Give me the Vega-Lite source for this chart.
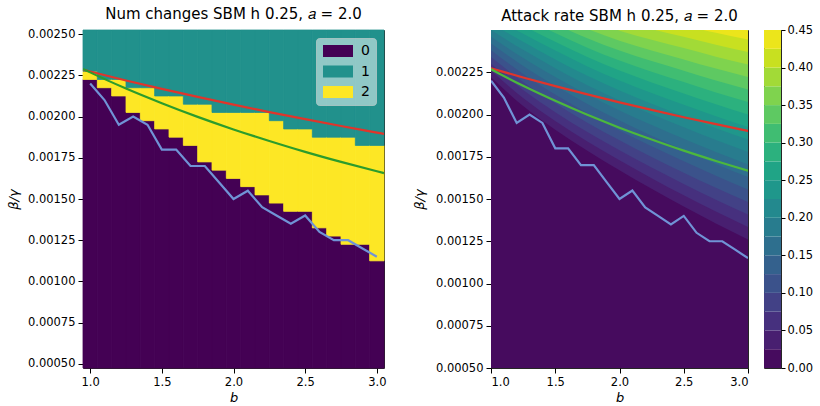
{
  "$schema": "https://vega.github.io/schema/vega-lite/v6.json",
  "padding": {"left": 6, "top": 6, "right": 0, "bottom": 0},
  "bounds": "flush",
  "spacing": 107,
  "config": {
    "font": "DejaVu Sans",
    "view": {"stroke": "#262626", "strokeWidth": 1},
    "axis": {"grid": false, "domain": false, "tickColor": "#000", "tickSize": 5, "labelFontSize": 11.5, "labelColor": "#000", "labelPadding": 3, "titleFontSize": 13, "titleFontWeight": "normal", "titleFontStyle": "italic", "titleColor": "#000"},
    "title": {"fontSize": 15, "fontWeight": "normal", "color": "#000", "offset": 6}
  },
  "datasets": {
    "cells": [
      {"b":1.0,"cls":0,"lo":0.000475,"hi":0.002225},{"b":1.0,"cls":2,"lo":0.002225,"hi":0.002275},{"b":1.0,"cls":1,"lo":0.002275,"hi":0.002525},
      {"b":1.1,"cls":0,"lo":0.000475,"hi":0.002175},{"b":1.1,"cls":2,"lo":0.002175,"hi":0.002225},{"b":1.1,"cls":1,"lo":0.002225,"hi":0.002525},
      {"b":1.2,"cls":0,"lo":0.000475,"hi":0.002125},{"b":1.2,"cls":2,"lo":0.002125,"hi":0.002225},{"b":1.2,"cls":1,"lo":0.002225,"hi":0.002525},
      {"b":1.3,"cls":0,"lo":0.000475,"hi":0.002025},{"b":1.3,"cls":2,"lo":0.002025,"hi":0.002175},{"b":1.3,"cls":1,"lo":0.002175,"hi":0.002525},
      {"b":1.4,"cls":0,"lo":0.000475,"hi":0.001975},{"b":1.4,"cls":2,"lo":0.001975,"hi":0.002175},{"b":1.4,"cls":1,"lo":0.002175,"hi":0.002525},
      {"b":1.5,"cls":0,"lo":0.000475,"hi":0.001925},{"b":1.5,"cls":2,"lo":0.001925,"hi":0.002125},{"b":1.5,"cls":1,"lo":0.002125,"hi":0.002525},
      {"b":1.6,"cls":0,"lo":0.000475,"hi":0.001875},{"b":1.6,"cls":2,"lo":0.001875,"hi":0.002125},{"b":1.6,"cls":1,"lo":0.002125,"hi":0.002525},
      {"b":1.7,"cls":0,"lo":0.000475,"hi":0.001825},{"b":1.7,"cls":2,"lo":0.001825,"hi":0.002075},{"b":1.7,"cls":1,"lo":0.002075,"hi":0.002525},
      {"b":1.8,"cls":0,"lo":0.000475,"hi":0.001725},{"b":1.8,"cls":2,"lo":0.001725,"hi":0.002075},{"b":1.8,"cls":1,"lo":0.002075,"hi":0.002525},
      {"b":1.9,"cls":0,"lo":0.000475,"hi":0.001675},{"b":1.9,"cls":2,"lo":0.001675,"hi":0.002025},{"b":1.9,"cls":1,"lo":0.002025,"hi":0.002525},
      {"b":2.0,"cls":0,"lo":0.000475,"hi":0.001625},{"b":2.0,"cls":2,"lo":0.001625,"hi":0.002025},{"b":2.0,"cls":1,"lo":0.002025,"hi":0.002525},
      {"b":2.1,"cls":0,"lo":0.000475,"hi":0.001575},{"b":2.1,"cls":2,"lo":0.001575,"hi":0.002025},{"b":2.1,"cls":1,"lo":0.002025,"hi":0.002525},
      {"b":2.2,"cls":0,"lo":0.000475,"hi":0.001525},{"b":2.2,"cls":2,"lo":0.001525,"hi":0.002025},{"b":2.2,"cls":1,"lo":0.002025,"hi":0.002525},
      {"b":2.3,"cls":0,"lo":0.000475,"hi":0.001475},{"b":2.3,"cls":2,"lo":0.001475,"hi":0.001975},{"b":2.3,"cls":1,"lo":0.001975,"hi":0.002525},
      {"b":2.4,"cls":0,"lo":0.000475,"hi":0.001425},{"b":2.4,"cls":2,"lo":0.001425,"hi":0.001925},{"b":2.4,"cls":1,"lo":0.001925,"hi":0.002525},
      {"b":2.5,"cls":0,"lo":0.000475,"hi":0.001425},{"b":2.5,"cls":2,"lo":0.001425,"hi":0.001925},{"b":2.5,"cls":1,"lo":0.001925,"hi":0.002525},
      {"b":2.6,"cls":0,"lo":0.000475,"hi":0.001325},{"b":2.6,"cls":2,"lo":0.001325,"hi":0.001875},{"b":2.6,"cls":1,"lo":0.001875,"hi":0.002525},
      {"b":2.7,"cls":0,"lo":0.000475,"hi":0.001275},{"b":2.7,"cls":2,"lo":0.001275,"hi":0.001875},{"b":2.7,"cls":1,"lo":0.001875,"hi":0.002525},
      {"b":2.8,"cls":0,"lo":0.000475,"hi":0.001225},{"b":2.8,"cls":2,"lo":0.001225,"hi":0.001875},{"b":2.8,"cls":1,"lo":0.001875,"hi":0.002525},
      {"b":2.9,"cls":0,"lo":0.000475,"hi":0.001225},{"b":2.9,"cls":2,"lo":0.001225,"hi":0.001825},{"b":2.9,"cls":1,"lo":0.001825,"hi":0.002525},
      {"b":3.0,"cls":0,"lo":0.000475,"hi":0.001125},{"b":3.0,"cls":2,"lo":0.001125,"hi":0.001825},{"b":3.0,"cls":1,"lo":0.001825,"hi":0.002525}
    ],
    "red": [
      {"b":0.95,"v":0.002284},{"b":1.0,"v":0.002273},{"b":1.25,"v":0.002219},{"b":1.5,"v":0.002168},{"b":1.75,"v":0.002119},{"b":2.0,"v":0.002072},{"b":2.25,"v":0.002027},{"b":2.5,"v":0.001984},{"b":2.75,"v":0.001943},{"b":3.0,"v":0.001903},{"b":3.05,"v":0.001895}
    ],
    "green": [
      {"b":0.95,"v":0.002289},{"b":1.0,"v":0.002268},{"b":1.25,"v":0.00217},{"b":1.5,"v":0.002081},{"b":1.75,"v":0.001998},{"b":2.0,"v":0.001922},{"b":2.25,"v":0.001852},{"b":2.5,"v":0.001786},{"b":2.75,"v":0.001725},{"b":3.0,"v":0.001668},{"b":3.05,"v":0.001657}
    ],
    "blue": [
      {"b":1.0,"v":0.0022},{"b":1.1,"v":0.0021},{"b":1.2,"v":0.00195},{"b":1.3,"v":0.002},{"b":1.4,"v":0.00195},{"b":1.5,"v":0.0018},{"b":1.6,"v":0.0018},{"b":1.7,"v":0.0017},{"b":1.8,"v":0.0017},{"b":1.9,"v":0.0016},{"b":2.0,"v":0.0015},{"b":2.1,"v":0.00155},{"b":2.2,"v":0.00145},{"b":2.3,"v":0.0014},{"b":2.4,"v":0.00135},{"b":2.5,"v":0.0014},{"b":2.6,"v":0.0013},{"b":2.7,"v":0.00125},{"b":2.8,"v":0.00125},{"b":2.9,"v":0.0012},{"b":3.0,"v":0.00115}
    ],
    "contours": [
      {"b":1,"level":0,"v":0.0005},{"b":3,"level":0,"v":0.0005},
      {"b":1,"level":0.025,"v":0.00222},{"b":1.25,"level":0.025,"v":0.00205},{"b":1.5,"level":0.025,"v":0.00191},{"b":1.75,"level":0.025,"v":0.001785},{"b":2,"level":0.025,"v":0.00167},{"b":2.25,"level":0.025,"v":0.00156},{"b":2.5,"level":0.025,"v":0.001455},{"b":2.75,"level":0.025,"v":0.001355},{"b":3,"level":0.025,"v":0.00126},
      {"b":1,"level":0.05,"v":0.00226},{"b":1.25,"level":0.05,"v":0.0020975},{"b":1.5,"level":0.05,"v":0.001962},{"b":1.75,"level":0.05,"v":0.0018405},{"b":2,"level":0.05,"v":0.001729},{"b":2.25,"level":0.05,"v":0.001623},{"b":2.5,"level":0.05,"v":0.001522},{"b":2.75,"level":0.05,"v":0.0014255},{"b":3,"level":0.05,"v":0.001334},
      {"b":1,"level":0.075,"v":0.0023},{"b":1.25,"level":0.075,"v":0.002145},{"b":1.5,"level":0.075,"v":0.002014},{"b":1.75,"level":0.075,"v":0.001896},{"b":2,"level":0.075,"v":0.001788},{"b":2.25,"level":0.075,"v":0.001686},{"b":2.5,"level":0.075,"v":0.001589},{"b":2.75,"level":0.075,"v":0.001496},{"b":3,"level":0.075,"v":0.001408},
      {"b":1,"level":0.1,"v":0.00234},{"b":1.25,"level":0.1,"v":0.0021925},{"b":1.5,"level":0.1,"v":0.002066},{"b":1.75,"level":0.1,"v":0.0019515},{"b":2,"level":0.1,"v":0.001847},{"b":2.25,"level":0.1,"v":0.001749},{"b":2.5,"level":0.1,"v":0.001656},{"b":2.75,"level":0.1,"v":0.0015665},{"b":3,"level":0.1,"v":0.001482},
      {"b":1,"level":0.125,"v":0.00238},{"b":1.25,"level":0.125,"v":0.00224},{"b":1.5,"level":0.125,"v":0.002118},{"b":1.75,"level":0.125,"v":0.002007},{"b":2,"level":0.125,"v":0.001906},{"b":2.25,"level":0.125,"v":0.001812},{"b":2.5,"level":0.125,"v":0.001723},{"b":2.75,"level":0.125,"v":0.001637},{"b":3,"level":0.125,"v":0.001556},
      {"b":1,"level":0.15,"v":0.00242},{"b":1.25,"level":0.15,"v":0.0022875},{"b":1.5,"level":0.15,"v":0.00217},{"b":1.75,"level":0.15,"v":0.0020625},{"b":2,"level":0.15,"v":0.001965},{"b":2.25,"level":0.15,"v":0.001875},{"b":2.5,"level":0.15,"v":0.00179},{"b":2.75,"level":0.15,"v":0.0017075},{"b":3,"level":0.15,"v":0.00163},
      {"b":1,"level":0.175,"v":0.00246},{"b":1.25,"level":0.175,"v":0.002335},{"b":1.5,"level":0.175,"v":0.002222},{"b":1.75,"level":0.175,"v":0.002118},{"b":2,"level":0.175,"v":0.002024},{"b":2.25,"level":0.175,"v":0.001938},{"b":2.5,"level":0.175,"v":0.001857},{"b":2.75,"level":0.175,"v":0.001778},{"b":3,"level":0.175,"v":0.001704},
      {"b":1,"level":0.2,"v":0.0025},{"b":1.25,"level":0.2,"v":0.0023825},{"b":1.5,"level":0.2,"v":0.002274},{"b":1.75,"level":0.2,"v":0.0021735},{"b":2,"level":0.2,"v":0.002083},{"b":2.25,"level":0.2,"v":0.002001},{"b":2.5,"level":0.2,"v":0.001924},{"b":2.75,"level":0.2,"v":0.0018485},{"b":3,"level":0.2,"v":0.001778},
      {"b":1,"level":0.225,"v":0.00254},{"b":1.25,"level":0.225,"v":0.00243},{"b":1.5,"level":0.225,"v":0.002326},{"b":1.75,"level":0.225,"v":0.002229},{"b":2,"level":0.225,"v":0.002142},{"b":2.25,"level":0.225,"v":0.002064},{"b":2.5,"level":0.225,"v":0.001991},{"b":2.75,"level":0.225,"v":0.001919},{"b":3,"level":0.225,"v":0.001852},
      {"b":1,"level":0.25,"v":0.00258},{"b":1.25,"level":0.25,"v":0.0024775},{"b":1.5,"level":0.25,"v":0.002378},{"b":1.75,"level":0.25,"v":0.0022845},{"b":2,"level":0.25,"v":0.002201},{"b":2.25,"level":0.25,"v":0.002127},{"b":2.5,"level":0.25,"v":0.002058},{"b":2.75,"level":0.25,"v":0.0019895},{"b":3,"level":0.25,"v":0.001926},
      {"b":1,"level":0.275,"v":0.00262},{"b":1.25,"level":0.275,"v":0.002525},{"b":1.5,"level":0.275,"v":0.00243},{"b":1.75,"level":0.275,"v":0.00234},{"b":2,"level":0.275,"v":0.00226},{"b":2.25,"level":0.275,"v":0.00219},{"b":2.5,"level":0.275,"v":0.002125},{"b":2.75,"level":0.275,"v":0.00206},{"b":3,"level":0.275,"v":0.002},
      {"b":1,"level":0.3,"v":0.00266},{"b":1.25,"level":0.3,"v":0.0025725},{"b":1.5,"level":0.3,"v":0.002482},{"b":1.75,"level":0.3,"v":0.0023955},{"b":2,"level":0.3,"v":0.002319},{"b":2.25,"level":0.3,"v":0.002253},{"b":2.5,"level":0.3,"v":0.002192},{"b":2.75,"level":0.3,"v":0.0021305},{"b":3,"level":0.3,"v":0.002074},
      {"b":1,"level":0.325,"v":0.0027},{"b":1.25,"level":0.325,"v":0.00262},{"b":1.5,"level":0.325,"v":0.002534},{"b":1.75,"level":0.325,"v":0.002451},{"b":2,"level":0.325,"v":0.002378},{"b":2.25,"level":0.325,"v":0.002316},{"b":2.5,"level":0.325,"v":0.002259},{"b":2.75,"level":0.325,"v":0.002201},{"b":3,"level":0.325,"v":0.002148},
      {"b":1,"level":0.35,"v":0.00274},{"b":1.25,"level":0.35,"v":0.0026675},{"b":1.5,"level":0.35,"v":0.002586},{"b":1.75,"level":0.35,"v":0.0025065},{"b":2,"level":0.35,"v":0.002437},{"b":2.25,"level":0.35,"v":0.002379},{"b":2.5,"level":0.35,"v":0.002326},{"b":2.75,"level":0.35,"v":0.0022715},{"b":3,"level":0.35,"v":0.002222},
      {"b":1,"level":0.375,"v":0.00278},{"b":1.25,"level":0.375,"v":0.002715},{"b":1.5,"level":0.375,"v":0.002638},{"b":1.75,"level":0.375,"v":0.002562},{"b":2,"level":0.375,"v":0.002496},{"b":2.25,"level":0.375,"v":0.002442},{"b":2.5,"level":0.375,"v":0.002393},{"b":2.75,"level":0.375,"v":0.002342},{"b":3,"level":0.375,"v":0.002296},
      {"b":1,"level":0.4,"v":0.00282},{"b":1.25,"level":0.4,"v":0.0027625},{"b":1.5,"level":0.4,"v":0.00269},{"b":1.75,"level":0.4,"v":0.0026175},{"b":2,"level":0.4,"v":0.002555},{"b":2.25,"level":0.4,"v":0.002505},{"b":2.5,"level":0.4,"v":0.00246},{"b":2.75,"level":0.4,"v":0.0024125},{"b":3,"level":0.4,"v":0.00237},
      {"b":1,"level":0.425,"v":0.00286},{"b":1.25,"level":0.425,"v":0.00281},{"b":1.5,"level":0.425,"v":0.002742},{"b":1.75,"level":0.425,"v":0.002673},{"b":2,"level":0.425,"v":0.002614},{"b":2.25,"level":0.425,"v":0.002568},{"b":2.5,"level":0.425,"v":0.002527},{"b":2.75,"level":0.425,"v":0.002483},{"b":3,"level":0.425,"v":0.002444}
    ],
    "cbar": [
      {"level":0,"upper":0.025},{"level":0.025,"upper":0.05},{"level":0.05,"upper":0.075},{"level":0.075,"upper":0.1},{"level":0.1,"upper":0.125},{"level":0.125,"upper":0.15},{"level":0.15,"upper":0.175},{"level":0.175,"upper":0.2},{"level":0.2,"upper":0.225},{"level":0.225,"upper":0.25},{"level":0.25,"upper":0.275},{"level":0.275,"upper":0.3},{"level":0.3,"upper":0.325},{"level":0.325,"upper":0.35},{"level":0.35,"upper":0.375},{"level":0.375,"upper":0.4},{"level":0.4,"upper":0.425},{"level":0.425,"upper":0.45}
    ]
  },
  "resolve": {"scale": {"color": "independent"}, "legend": {"color": "independent"}},
  "hconcat": [
    {
      "width": 301,
      "height": 338,
      "title": {"text": "Num changes SBM h 0.25, 𝑎 = 2.0"},
      "layer": [
        {
          "layer": [
            {
              "data": {"name": "cells"},
              "mark": {"type": "rect", "strokeWidth": 0.8},
              "encoding": {
                "x": {"field": "b", "type": "ordinal", "axis": null, "scale": {"paddingInner": 0, "paddingOuter": 0}},
                "y": {"field": "lo", "type": "quantitative", "scale": {"domain": [0.000475, 0.002525], "nice": false, "zero": false},
                      "axis": {"title": "β/γ", "values": [0.0005, 0.00075, 0.001, 0.00125, 0.0015, 0.00175, 0.002, 0.00225, 0.0025], "format": ".5f", "titlePadding": 7}},
                "y2": {"field": "hi"},
                "color": {"field": "cls", "type": "nominal", "scale": {"domain": [0, 1, 2], "range": ["#440154", "#21918c", "#fde725"]},
                          "legend": {"orient": "top-right", "title": null, "offset": 8, "padding": 6, "fillColor": "rgba(255,255,255,0.5)", "strokeColor": "rgba(210,210,210,0.6)", "cornerRadius": 3,
                                     "symbolType": "M-2.5,-1H2.5V1H-2.5Z", "symbolSize": 144, "symbolOffset": 9, "symbolStrokeWidth": 0, "symbolOpacity": 1,
                                     "labelFontSize": 14, "labelOffset": 16, "labelColor": "#000", "rowPadding": 6.5}},
                "stroke": {"field": "cls", "type": "nominal", "scale": {"domain": [0, 1, 2], "range": ["#440154", "#21918c", "#fde725"]}, "legend": null}
              }
            }
          ]
        },
        {
          "layer": [
            {
              "data": {"name": "blue"},
              "mark": {"type": "line", "color": "#7093d6", "strokeWidth": 2.2, "clip": true},
              "encoding": {
                "x": {"field": "b", "type": "quantitative", "scale": {"domain": [0.95, 3.05], "nice": false, "zero": false},
                      "axis": {"title": "b", "orient": "bottom", "values": [1, 1.5, 2, 2.5, 3], "format": ".1f"}},
                "y": {"field": "v", "type": "quantitative"}
              }
            },
            {
              "data": {"name": "red"},
              "mark": {"type": "line", "color": "#e0352b", "strokeWidth": 2.2, "interpolate": "monotone", "clip": true},
              "encoding": {"x": {"field": "b", "type": "quantitative"}, "y": {"field": "v", "type": "quantitative"}}
            },
            {
              "data": {"name": "green"},
              "mark": {"type": "line", "color": "#2c9c2c", "strokeWidth": 2.2, "interpolate": "monotone", "clip": true},
              "encoding": {"x": {"field": "b", "type": "quantitative"}, "y": {"field": "v", "type": "quantitative"}}
            }
          ]
        }
      ],
      "resolve": {"scale": {"x": "independent"}, "axis": {"x": "independent"}}
    },
    {
      "bounds": "flush",
      "spacing": 16,
      "hconcat": [
        {
          "width": 257,
          "height": 338,
          "title": {"text": "Attack rate SBM h 0.25, 𝑎 = 2.0"},
          "layer": [
            {
              "data": {"name": "contours"},
              "mark": {"type": "area", "clip": true, "interpolate": "monotone"},
              "encoding": {
                "x": {"field": "b", "type": "quantitative", "scale": {"domain": [1, 3], "nice": false, "zero": false},
                      "axis": {"title": "b", "values": [1, 1.5, 2, 2.5, 3], "format": ".1f"}},
                "y": {"field": "v", "type": "quantitative", "stack": null, "scale": {"domain": [0.0005, 0.0025], "nice": false, "zero": false},
                      "axis": {"title": "β/γ", "values": [0.0005, 0.00075, 0.001, 0.00125, 0.0015, 0.00175, 0.002, 0.00225], "format": ".5f", "titlePadding": 9}},
                "y2": {"datum": 0.0026},
                "color": {"field": "level", "type": "ordinal",
                          "scale": {"domain": [0, 0.025, 0.05, 0.075, 0.1, 0.125, 0.15, 0.175, 0.2, 0.225, 0.25, 0.275, 0.3, 0.325, 0.35, 0.375, 0.4, 0.425],
                                    "range": ["#460b5e", "#481f70", "#46307e", "#424186", "#3b528b", "#34618d", "#2e6f8e", "#287c8e", "#23898e", "#1f978b", "#20a486", "#2cb17e", "#40bd72", "#5ec962", "#7fd34e", "#a2da37", "#c8e020", "#ece51b"]},
                          "legend": null}
              }
            },
            {
              "data": {"name": "blue"},
              "mark": {"type": "line", "color": "#7093d6", "strokeWidth": 2.2, "clip": true},
              "encoding": {"x": {"field": "b", "type": "quantitative"}, "y": {"field": "v", "type": "quantitative"}}
            },
            {
              "data": {"name": "red"},
              "mark": {"type": "line", "color": "#e0352b", "strokeWidth": 2.2, "interpolate": "monotone", "clip": true},
              "encoding": {"x": {"field": "b", "type": "quantitative"}, "y": {"field": "v", "type": "quantitative"}}
            },
            {
              "data": {"name": "green"},
              "mark": {"type": "line", "color": "#4cb83c", "strokeWidth": 2.2, "interpolate": "monotone", "clip": true},
              "encoding": {"x": {"field": "b", "type": "quantitative"}, "y": {"field": "v", "type": "quantitative"}}
            }
          ]
        },
        {
          "width": 17,
          "height": 338,
          "data": {"name": "cbar"},
          "mark": {"type": "rect"},
          "encoding": {
            "y": {"field": "level", "type": "quantitative", "scale": {"domain": [0, 0.45], "nice": false, "zero": false},
                  "axis": {"orient": "right", "title": null, "values": [0, 0.05, 0.1, 0.15, 0.2, 0.25, 0.3, 0.35, 0.4, 0.45], "format": ".2f", "tickSize": 4, "labelPadding": 2}},
            "y2": {"field": "upper"},
            "color": {"field": "level", "type": "ordinal",
                      "scale": {"domain": [0, 0.025, 0.05, 0.075, 0.1, 0.125, 0.15, 0.175, 0.2, 0.225, 0.25, 0.275, 0.3, 0.325, 0.35, 0.375, 0.4, 0.425],
                                "range": ["#460b5e", "#481f70", "#46307e", "#424186", "#3b528b", "#34618d", "#2e6f8e", "#287c8e", "#23898e", "#1f978b", "#20a486", "#2cb17e", "#40bd72", "#5ec962", "#7fd34e", "#a2da37", "#c8e020", "#ece51b"]},
                      "legend": null}
          }
        }
      ],
      "resolve": {"scale": {"color": "independent"}}
    }
  ]
}
